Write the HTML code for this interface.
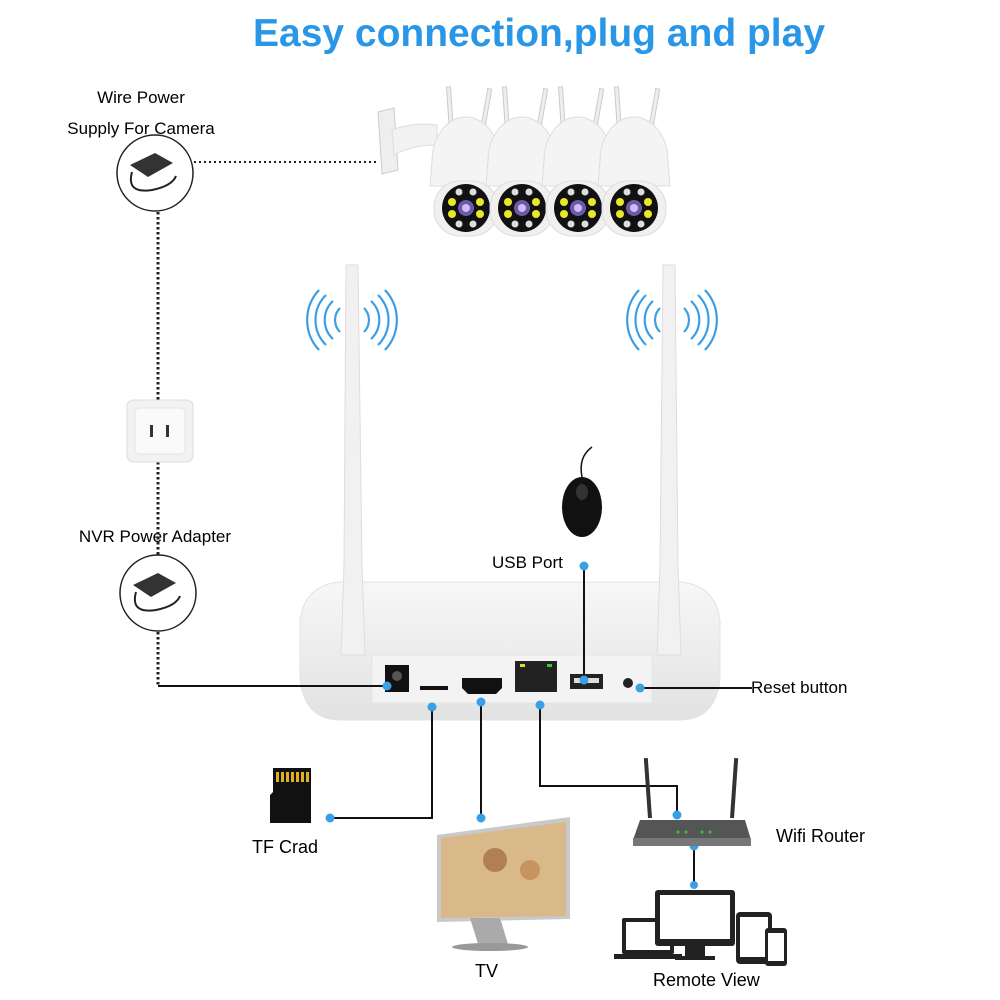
<!DOCTYPE html>
<html><head><meta charset="utf-8"><style>
html,body{margin:0;padding:0;background:#fff;}
svg{display:block;font-family:"Liberation Sans",sans-serif;}
</style></head><body>
<svg width="1000" height="1000" viewBox="0 0 1000 1000" xmlns="http://www.w3.org/2000/svg">
<defs>
<linearGradient id="bd" x1="0" y1="0" x2="0" y2="1"><stop offset="0" stop-color="#f7f7f7"/><stop offset="1" stop-color="#e2e2e2"/></linearGradient>
<g id="cam">
 <rect x="-14" y="-80" width="4" height="50" fill="#eee" stroke="#ccc" transform="rotate(-4)"/>
 <rect x="8" y="-80" width="4" height="50" fill="#eee" stroke="#ccc" transform="rotate(10)"/>
 <path d="M-34,-5 A34,44 0 0 1 34,-5 L36,20 L-36,20 Z" fill="#f4f4f4" stroke="#ddd"/>
 <rect x="-32" y="15" width="64" height="55" rx="26" fill="#f0f0f0" stroke="#ddd"/>
 <circle cx="0" cy="42" r="24" fill="#111"/>
 <circle cx="0" cy="42" r="8" fill="#6a5aa8"/><circle cx="0" cy="42" r="4" fill="#cdbcf5"/>
 <circle cx="-14" cy="36" r="4" fill="#e8e82a"/><circle cx="14" cy="36" r="4" fill="#e8e82a"/>
 <circle cx="-14" cy="48" r="4" fill="#e8e82a"/><circle cx="14" cy="48" r="4" fill="#e8e82a"/>
 <circle cx="-7" cy="26" r="3.5" fill="#ddd"/><circle cx="7" cy="26" r="3.5" fill="#ddd"/>
 <circle cx="-7" cy="58" r="3.5" fill="#ddd"/><circle cx="7" cy="58" r="3.5" fill="#ddd"/>
</g>
<g id="wifi" fill="none" stroke="#3aa0e6" stroke-width="2.2">
 <path d="M-12,-12 A17,17 0 0 0 -12,12"/><path d="M-19,-19 A26,26 0 0 0 -19,19"/><path d="M-26,-25 A35,35 0 0 0 -26,25"/><path d="M-33,-30 A44,44 0 0 0 -33,30"/>
 <path d="M12,-12 A17,17 0 0 1 12,12"/><path d="M19,-19 A26,26 0 0 1 19,19"/><path d="M26,-25 A35,35 0 0 1 26,25"/><path d="M33,-30 A44,44 0 0 1 33,30"/>
</g>
</defs>

<text x="539" y="46" text-anchor="middle" font-size="39" font-weight="bold" fill="#2a97e6" textLength="572" lengthAdjust="spacingAndGlyphs">Easy connection,plug and play</text>

<text x="141" y="103" text-anchor="middle" font-size="17">Wire Power</text>
<text x="141" y="134" text-anchor="middle" font-size="17">Supply For Camera</text>
<text x="155" y="542" text-anchor="middle" font-size="17">NVR Power Adapter</text>

<line x1="194" y1="162" x2="378" y2="162" stroke="#222" stroke-width="2" stroke-dasharray="2,3"/>
<line x1="158" y1="212" x2="158" y2="685" stroke="#222" stroke-width="3" stroke-dasharray="2.5,2.5"/>

<circle cx="155" cy="173" r="38" fill="#fff" stroke="#222" stroke-width="1.5"/>
<path d="M130,165 l25,-12 l18,10 l-25,14 z" fill="#333"/><path d="M132,172 q-6,22 20,18 q20,-4 24,-14" fill="none" stroke="#222" stroke-width="2"/>
<circle cx="158" cy="593" r="38" fill="#fff" stroke="#222" stroke-width="1.5"/>
<path d="M133,585 l25,-12 l18,10 l-25,14 z" fill="#333"/><path d="M136,592 q-6,22 20,18 q20,-4 24,-14" fill="none" stroke="#222" stroke-width="2"/>

<rect x="127" y="400" width="66" height="62" rx="6" fill="#f2f2f2" stroke="#ddd"/>
<rect x="135" y="408" width="50" height="46" rx="4" fill="#fafafa" stroke="#e4e4e4"/>
<rect x="150" y="425" width="3" height="12" fill="#333"/><rect x="166" y="425" width="3" height="12" fill="#333"/>

<path d="M378,112 l16,-4 l4,62 l-16,4 z" fill="#eee" stroke="#ccc"/>
<path d="M392,130 q20,-8 45,-5 l0,20 q-25,0 -43,10 z" fill="#f2f2f2" stroke="#ddd"/>
<use href="#cam" x="466" y="166"/>
<use href="#cam" x="522" y="166"/>
<use href="#cam" x="578" y="166"/>
<use href="#cam" x="634" y="166"/>

<use href="#wifi" x="352" y="320"/>
<use href="#wifi" x="672" y="320"/>

<path d="M300,620 q5,-35 40,-38 l340,0 q35,3 40,38 l0,60 q-5,40 -40,40 l-340,0 q-35,0 -40,-40 z" fill="url(#bd)" stroke="#e3e3e3"/>
<rect x="372" y="655" width="280" height="48" fill="#f3f3f3" stroke="#e6e6e6"/>
<path d="M346,265 l12,0 l4,300 l3,90 l-24,0 l3,-90 z" fill="#f1f1f1" stroke="#ddd"/>
<path d="M663,265 l12,0 l3,300 l3,90 l-24,0 l3,-90 z" fill="#f1f1f1" stroke="#ddd"/>
<rect x="385" y="665" width="24" height="27" fill="#111"/><circle cx="397" cy="676" r="5" fill="#555"/>
<rect x="420" y="686" width="28" height="4" fill="#111"/>
<path d="M462,678 l40,0 l0,10 l-6,6 l-28,0 l-6,-6 z" fill="#111"/>
<rect x="515" y="661" width="42" height="31" fill="#222"/><rect x="520" y="664" width="5" height="3" fill="#dd2"/><rect x="547" y="664" width="5" height="3" fill="#3c3"/>
<rect x="570" y="674" width="33" height="15" fill="#222"/><rect x="574" y="678" width="25" height="5" fill="#ddd"/>
<circle cx="628" cy="683" r="5" fill="#222"/>

<ellipse cx="582" cy="507" rx="20" ry="30" fill="#111"/><ellipse cx="582" cy="492" rx="6" ry="8" fill="#333"/>
<path d="M582,477 q-4,-20 10,-30" fill="none" stroke="#111" stroke-width="1.5"/>

<g stroke="#111" stroke-width="2" fill="none">
<line x1="158" y1="686" x2="387" y2="686"/>
<line x1="584" y1="566" x2="584" y2="680"/>
<line x1="640" y1="688" x2="752" y2="688"/>
<polyline points="432,707 432,818 330,818"/>
<line x1="481" y1="702" x2="481" y2="818"/>
<polyline points="540,705 540,786 677,786 677,815"/>
<line x1="694" y1="846" x2="694" y2="885"/>
</g>
<g fill="#3aa0e6">
<circle cx="387" cy="686" r="4.5"/><circle cx="584" cy="566" r="4.5"/><circle cx="584" cy="680" r="4.5"/>
<circle cx="640" cy="688" r="4.5"/><circle cx="432" cy="707" r="4.5"/><circle cx="481" cy="702" r="4.5"/>
<circle cx="540" cy="705" r="4.5"/><circle cx="330" cy="818" r="4.5"/><circle cx="481" cy="818" r="4.5"/>
<circle cx="677" cy="815" r="4.5"/><circle cx="694" cy="846" r="4.5"/><circle cx="694" cy="885" r="4"/>
</g>

<text x="492" y="568" font-size="17">USB Port</text>
<text x="751" y="693" font-size="17">Reset button</text>

<path d="M273,768 l38,0 l0,55 l-41,0 l0,-28 l3,-3 z" fill="#111"/>
<g fill="#e0b020"><rect x="276" y="772" width="3" height="10"/><rect x="281" y="772" width="3" height="10"/><rect x="286" y="772" width="3" height="10"/><rect x="291" y="772" width="3" height="10"/><rect x="296" y="772" width="3" height="10"/><rect x="301" y="772" width="3" height="10"/><rect x="306" y="772" width="3" height="10"/></g>
<text x="252" y="853" font-size="18">TF Crad</text>

<path d="M437,835 l133,-18 l0,102 l-133,3 z" fill="#c9c9c9"/>
<path d="M441,838 l125,-16 l0,94 l-125,2 z" fill="#d9b88a"/>
<circle cx="495" cy="860" r="12" fill="#b07f55"/><circle cx="530" cy="870" r="10" fill="#c8945e"/>
<path d="M470,918 l30,0 l8,26 l-30,0 z" fill="#aaa"/><ellipse cx="490" cy="947" rx="38" ry="4" fill="#999"/>
<text x="475" y="977" font-size="18">TV</text>

<rect x="648" y="758" width="4" height="60" fill="#333" transform="rotate(-4 650 818)"/>
<rect x="730" y="758" width="4" height="60" fill="#333" transform="rotate(4 732 818)"/>
<path d="M640,820 l105,0 l6,20 l-118,0 z" fill="#555"/><rect x="633" y="838" width="118" height="8" fill="#777"/>
<g fill="#3c3"><circle cx="678" cy="832" r="1.5"/><circle cx="686" cy="832" r="1.5"/><circle cx="702" cy="832" r="1.5"/><circle cx="710" cy="832" r="1.5"/></g>
<text x="776" y="842" font-size="18">Wifi Router</text>

<rect x="622" y="918" width="52" height="36" rx="2" fill="#222"/><rect x="626" y="922" width="44" height="28" fill="#fff"/>
<rect x="614" y="954" width="68" height="5" fill="#222"/>
<rect x="655" y="890" width="80" height="56" rx="3" fill="#222"/><rect x="660" y="895" width="70" height="44" fill="#fff"/>
<rect x="685" y="946" width="20" height="10" fill="#222"/><rect x="675" y="956" width="40" height="4" fill="#222"/>
<rect x="736" y="912" width="36" height="52" rx="4" fill="#222"/><rect x="740" y="917" width="28" height="40" fill="#fff"/>
<rect x="765" y="928" width="22" height="38" rx="3" fill="#222"/><rect x="768" y="933" width="16" height="28" fill="#fff"/>
<text x="653" y="986" font-size="18">Remote View</text>
</svg>
</body></html>
